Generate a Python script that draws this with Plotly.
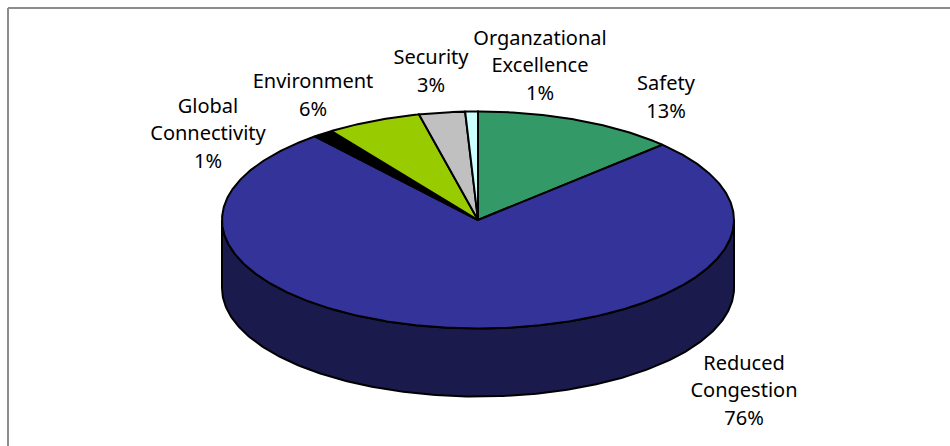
import numpy as np
import plotly.graph_objects as go

# Data
categories = ["Safety", "Reduced Congestion", "Global Connectivity", "Environment", "Security", "Organzational Excellence"]
values = [12.8, 76.2, 1.3, 6.0, 2.9, 0.8]
label_lines = [["Safety"], ["Reduced", "Congestion"], ["Global", "Connectivity"], ["Environment"], ["Security"], ["Organzational", "Excellence"]]

# Style
face_colors = ["#339966", "#333399", "#000000", "#99CC00", "#C0C0C0", "#CCFFFF"]
wall_colors = ["#1A4D33", "#1A1A4D", "#000000", "#4D6600", "#606060", "#668080"]

# Layout constants (pixels)
W, H = 950, 446
CX, CY, RX, RY, DEPTH = 478, 220, 256, 108.5, 68
label_centres = [(666, 99), (744, 392), (208, 135), (313, 97), (431, 73), (540, 67)]
LINE_STEP = 27.5
FONT = dict(family="Noto Sans", size=20, color="#000000")

total = sum(values)
edges = np.concatenate([[0], np.cumsum(values)]) / total * 2 * np.pi


def ex(t):
    return CX + RX * np.sin(t)


def ey(t, off=0.0):
    return CY - RY * np.cos(t) + off


fig = go.Figure()

# Side wall: the parts of each slice on the front half of the ellipse
for i in range(len(values)):
    a, b = max(edges[i], np.pi / 2), min(edges[i + 1], 3 * np.pi / 2)
    if b <= a:
        continue
    t = np.linspace(a, b, 240)
    xs = np.concatenate([ex(t), ex(t[::-1])])
    ys = np.concatenate([ey(t), ey(t[::-1], DEPTH)])
    fig.add_trace(go.Scatter(x=np.append(xs, xs[0]), y=np.append(ys, ys[0]), mode="lines", fill="toself",
                             fillcolor=wall_colors[i], line=dict(color="#000000", width=2), hoverinfo="skip"))

# Top face
for i in range(len(values)):
    t = np.linspace(edges[i], edges[i + 1], max(2, int(values[i] * 8)))
    xs = np.concatenate([[CX], ex(t), [CX]])
    ys = np.concatenate([[CY], ey(t), [CY]])
    fig.add_trace(go.Scatter(x=xs, y=ys, mode="lines", fill="toself", fillcolor=face_colors[i],
                             line=dict(color="#000000", width=2), name=categories[i], hoverinfo="skip"))

# Labels, one text per line so the leading matches
for i in range(len(values)):
    lines = label_lines[i] + [f"{round(values[i] / total * 100)}%"]
    cx, cy = label_centres[i]
    n = len(lines)
    fig.add_trace(go.Scatter(x=[cx] * n, y=[cy + (k - (n - 1) / 2) * LINE_STEP for k in range(n)], mode="text",
                             text=lines, textposition="middle center", textfont=FONT, hoverinfo="skip"))

# Chart frame (open on the right and the bottom)
fig.add_shape(type="line", x0=8, x1=8, y0=8, y1=H, line=dict(color="#8C8C8C", width=2))
fig.add_shape(type="line", x0=8, x1=W, y0=8, y1=8, line=dict(color="#8C8C8C", width=2))

fig.update_layout(width=W, height=H, margin=dict(l=0, r=0, t=0, b=0), showlegend=False,
                  paper_bgcolor="#FFFFFF", plot_bgcolor="#FFFFFF",
                  xaxis=dict(range=[0, W], visible=False, fixedrange=True),
                  yaxis=dict(range=[H, 0], visible=False, fixedrange=True))
fig.write_html("out.html", config=dict(displayModeBar=False),
               post_script="document.body.style.margin='0';document.body.style.overflow='hidden';")
